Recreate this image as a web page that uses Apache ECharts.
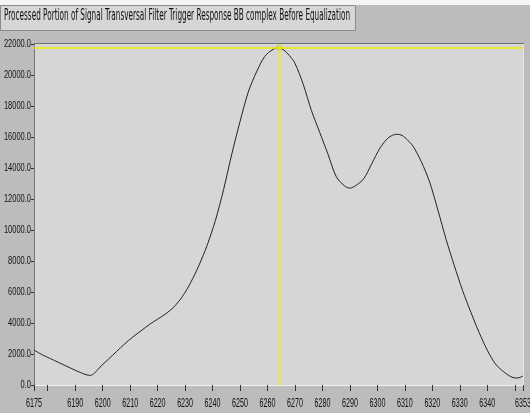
<!DOCTYPE html>
<html><head><meta charset="utf-8">
<script src="https://cdn.jsdelivr.net/npm/echarts@6/dist/echarts.min.js"></script>
<style>html,body{margin:0;padding:0;background:#fff}#c{width:530px;height:413px}</style>
</head><body><div id="c"></div>
<script>
const titleText = 'Processed Portion of Signal Transversal Filter Trigger Response BB complex Before Equalization';
const xValues = [6175,6178,6181,6184,6187,6190,6192,6194,6195.5,6197,6199,6202,6205,6208,6211,6214,6217,6220,6223,6226,6229,6232,6235,6238,6241,6244,6247,6250,6253,6256,6259,6262,6264,6266,6268,6270,6273,6276,6279,6282,6285,6288,6290,6292,6295,6298,6301,6304,6307,6309,6311,6313,6316,6319,6322,6325,6328,6331,6334,6337,6340,6343,6346,6349,6351,6353];
const yValues = [2250,1950,1700,1450,1200,950,800,660,620,760,1150,1650,2150,2650,3100,3500,3900,4250,4600,5050,5700,6600,7700,9000,10600,12600,14900,17000,18900,20200,21200,21650,21750,21600,21250,20750,19400,17700,16300,14900,13450,12850,12700,12850,13300,14300,15300,15950,16180,16100,15800,15400,14400,13100,11300,9400,7700,6100,4700,3400,2250,1350,850,500,450,580];
const xTicks = [6175,6180,6190,6200,6210,6220,6230,6240,6250,6260,6270,6280,6290,6300,6310,6320,6330,6340,6350,6353];
const xLabels = [6175,6190,6200,6210,6220,6230,6240,6250,6260,6270,6280,6290,6300,6310,6320,6330,6340,6353];
const yMin = 0, yMax = 22000, yStep = 2000;
const xMin = 6175, xMax = 6353;
const cursorX = 6264.3, cursorY = 21750;

const font = '"Liberation Sans",Arial,sans-serif';
const tfont = '15px "DejaVu Sans",sans-serif';
const cv = document.createElement('canvas').getContext('2d');
cv.font = tfont;
const sx = 346 / cv.measureText(titleText).width;

const chart = echarts.init(document.getElementById('c'));
const baseGraphic = [
  {type:'rect', left:0, top:0, shape:{width:530,height:5}, style:{fill:'#f4f4f4'}, z:0},
  {type:'rect', left:0, top:5, shape:{width:355,height:25}, style:{fill:'#d6d6d6', stroke:'#8a8a8a', lineWidth:1}, z:1},
  {type:'text', x:4, y:9, scaleX:sx, style:{text:titleText, font:tfont, fill:'#111'}, z:2},
  {type:'rect', left:34, top:43, shape:{width:490,height:1}, style:{fill:'#707070'}, z:1},
  {type:'rect', left:523, top:44, shape:{width:1,height:341}, style:{fill:'#e6e6e6'}, z:1}
];
chart.setOption({
  backgroundColor: '#bcbcbc',
  animation: false,
  graphic: baseGraphic,
  grid: {left:34, right:7, top:44, bottom:28, show:true, backgroundColor:'#d6d6d6', borderWidth:0, containLabel:false, outerBoundsMode:'none'},
  xAxis: {
    type:'value', min:xMin, max:xMax,
    axisLine:{show:true, lineStyle:{color:'#f2f2f2', width:1}},
    axisTick:{show:true, customValues:xTicks, length:6, lineStyle:{color:'#333'}},
    axisLabel:{show:false},
    splitLine:{show:false}
  },
  yAxis: {
    type:'value', min:yMin, max:yMax, interval:yStep,
    axisLine:{show:true, lineStyle:{color:'#777'}},
    axisTick:{show:true, length:3, lineStyle:{color:'#333'}},
    axisLabel:{show:false},
    splitLine:{show:false}
  },
  series: [
    {type:'line', data:xValues.map((x,i)=>[x,yValues[i]]), showSymbol:false, smooth:0.3,
     lineStyle:{color:'#222', width:1}, z:3,
     markLine:{silent:true, symbol:'none', label:{show:false},
       lineStyle:{color:'#ecec00', width:1.5, type:'solid'},
       data:[{xAxis:cursorX},{yAxis:cursorY}]}},
    {type:'scatter', data:[[cursorX,cursorY]], symbol:'circle', symbolSize:5,
     itemStyle:{color:'#ecec00', borderColor:'#777', borderWidth:0.5}, z:4}
  ]
});
// condensed tick labels placed through the axis scales
const labels = [];
for (let v = yMin; v <= yMax; v += yStep) {
  const py = chart.convertToPixel({yAxisIndex:0}, v);
  labels.push({type:'text', x:31, y:py, scaleX:0.68,
    style:{text:v.toFixed(1), font:'11px ' + font, fill:'#111', align:'right', verticalAlign:'middle'}, z:5});
}
xLabels.forEach(v => {
  const px = chart.convertToPixel({xAxisIndex:0}, v);
  const py = chart.convertToPixel({yAxisIndex:0}, yMin);
  labels.push({type:'text', x:px, y:py + 12, scaleX:0.55,
    style:{text:String(v), font:'13px ' + font, fill:'#111', align:'center', verticalAlign:'top'}, z:5});
});
chart.setOption({graphic: baseGraphic.concat(labels)});
</script></body></html>
